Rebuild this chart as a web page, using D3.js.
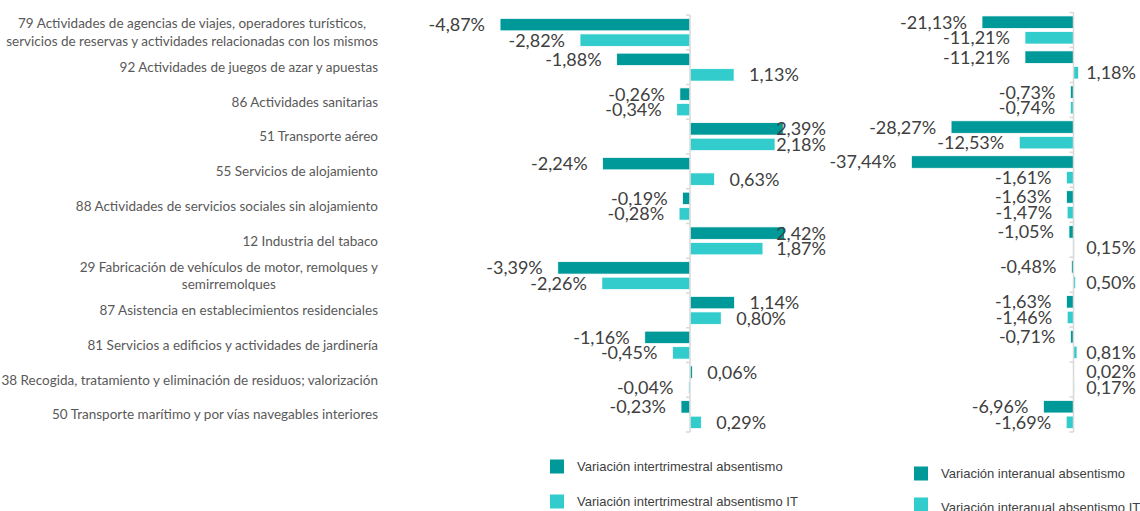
<!DOCTYPE html>
<html>
<head>
<meta charset="utf-8">
<script src="https://cdn.jsdelivr.net/npm/d3@7"></script>
<style>
  body { margin: 0; background: #fff; }
  svg { display: block; }
</style>
</head>
<body>
<svg id="svg"></svg>
<script>
const width = 1140;
const height = 511;

// categories (| = line break)
const categories = [
  "79 Actividades de agencias de viajes, operadores turísticos,|servicios de reservas y actividades relacionadas con los mismos",
  "92 Actividades de juegos de azar y apuestas",
  "86 Actividades sanitarias",
  "51 Transporte aéreo",
  "55 Servicios de alojamiento",
  "88 Actividades de servicios sociales sin alojamiento",
  "12 Industria del tabaco",
  "29 Fabricación de vehículos de motor, remolques y|semirremolques",
  "87 Asistencia en establecimientos residenciales",
  "81 Servicios a edificios y actividades de jardinería",
  "38 Recogida, tratamiento y eliminación de residuos; valorización",
  "50 Transporte marítimo y por vías navegables interiores"
];

const interTrim   = [-4.87, -1.88, -0.26, 2.39, -2.24, -0.19, 2.42, -3.39, 1.14, -1.16, 0.06, -0.23];
const interTrimIT = [-2.82, 1.13, -0.34, 2.18, 0.63, -0.28, 1.87, -2.26, 0.80, -0.45, -0.04, 0.29];
const interAnual   = [-21.13, -11.21, -0.73, -28.27, -37.44, -1.63, -1.05, -0.48, -1.63, -0.71, 0.02, -6.96];
const interAnualIT = [-11.21, 1.18, -0.74, -12.53, -1.61, -1.47, 0.15, 0.50, -1.46, 0.81, 0.17, -1.69];

const legendLeft  = ["Variación intertrimestral absentismo", "Variación intertrimestral absentismo IT"];
const legendRight = ["Variación interanual absentismo", "Variación interanual absentismo IT"];

const dark = "#009999";
const light = "#33CCCC";
const fmt = v => d3.format(".2f")(v).replace("\u2212", "-").replace(".", ",") + "%";

const svg = d3.select("#svg")
  .attr("width", width)
  .attr("height", height);

// category labels, sized to fit the left column
const labelRight = 378;
const catG = svg.append("g");

function drawPanel(opts) {
  const y0 = d3.scaleBand()
    .domain(d3.range(categories.length))
    .range([opts.top, opts.bottom]);

  const y1 = d3.scaleBand()
    .domain([0, 1])
    .range([0, y0.bandwidth()])
    .paddingInner(0.2)
    .paddingOuter(0.22);

  const x = d3.scaleLinear()
    .domain(opts.domain)
    .range(opts.range);

  const g = svg.append("g");
  const series = [opts.a, opts.b];
  const colors = [dark, light];

  series.forEach(function(vals, s) {
    g.selectAll(null)
      .data(vals)
      .enter().append("rect")
      .attr("x", d => Math.min(x(0), x(d)))
      .attr("width", d => Math.abs(x(d) - x(0)))
      .attr("y", (d, i) => y0(i) + y1(s))
      .attr("height", y1.bandwidth())
      .style("fill", colors[s])
      .style("stroke", "#fff")
      .style("stroke-width", 0.75);
  });

  // axis line with small ticks at band edges
  const axis = g.append("g");
  axis.append("line")
    .attr("x1", x(0)).attr("x2", x(0))
    .attr("y1", opts.top).attr("y2", opts.bottom)
    .style("stroke", "#d9d9d9").style("stroke-width", 1.5);
  axis.selectAll(null)
    .data(d3.range(categories.length + 1))
    .enter().append("line")
    .attr("x1", x(0) - 4).attr("x2", x(0))
    .attr("y1", i => opts.top + i * y0.step())
    .attr("y2", i => opts.top + i * y0.step())
    .style("stroke", "#d9d9d9").style("stroke-width", 1.5);

  // value labels
  series.forEach(function(vals, s) {
    g.selectAll(null)
      .data(vals)
      .enter().append("text")
      .attr("y", (d, i) => y0(i) + y1(s) + y1.bandwidth() / 2)
      .attr("dy", "0.36em")
      .style("font-family", "Lato, 'Open Sans', sans-serif")
      .style("font-size", "18px")
      .style("fill", "#404040")
      .text(d => fmt(d))
      .each(function(d) {
        const t = d3.select(this);
        const w = this.getComputedTextLength();
        if (d < 0) {
          t.attr("x", x(d) - 15).attr("text-anchor", "end");
        } else {
          t.attr("x", Math.min(x(d) + 15, opts.limit - w)).attr("text-anchor", "start");
        }
      });
  });

  return y0;
}

const yLeft = drawPanel({
  top: 15, bottom: 432,
  domain: [-5, 3.5], range: [495, 826.5],
  limit: 826,
  a: interTrim, b: interTrimIT
});

drawPanel({
  top: 12.5, bottom: 432,
  domain: [-40, 14.5], range: [900.3, 1136.3],
  limit: 1136,
  a: interAnual, b: interAnualIT
});

const catText = catG.selectAll("text")
  .data(categories)
  .enter().append("text")
  .attr("text-anchor", "middle")
  .style("font-family", "Lato, 'Open Sans', sans-serif")
  .style("font-size", "13px")
  .style("fill", "#595959");

catText.each(function(d, i) {
  const lines = d.split("|");
  const t = d3.select(this);
  const cy = yLeft(i) + yLeft.bandwidth() / 2;
  lines.forEach(function(line, k) {
    t.append("tspan")
      .attr("y", cy + (k - (lines.length - 1) / 2) * 17.5)
      .attr("dy", "0.35em")
      .text(line);
  });
});

// fit font size so the longest line spans the label column
let maxW = 0;
catG.selectAll("tspan").each(function() { maxW = Math.max(maxW, this.getComputedTextLength()); });
const fs = 13 * 377 / maxW;
catText.style("font-size", fs + "px");

// right-align lines; two-line labels centred on each other
catText.each(function() {
  const spans = d3.select(this).selectAll("tspan");
  let w = 0;
  spans.each(function() { w = Math.max(w, this.getComputedTextLength()); });
  spans.attr("x", labelRight - w / 2);
});

// legends
function legend(items, x, y, gap, ty) {
  const lg = svg.append("g").attr("transform", `translate(${x},${y})`);
  items.forEach(function(name, i) {
    lg.append("rect")
      .attr("x", 0).attr("y", i * gap)
      .attr("width", 14).attr("height", 14)
      .style("fill", i === 0 ? dark : light);
    lg.append("text")
      .attr("x", 27).attr("y", i * gap + ty[i])
      .attr("dy", "0.35em")
      .style("font-family", "'Liberation Sans', Arial, sans-serif")
      .style("font-size", "13px")
      .style("fill", "#404040")
      .text(name);
  });
}

legend(legendLeft, 550, 459.5, 35, [7, 7]);
legend(legendRight, 914, 466.5, 31, [7, 10]);
</script>
</body>
</html>
